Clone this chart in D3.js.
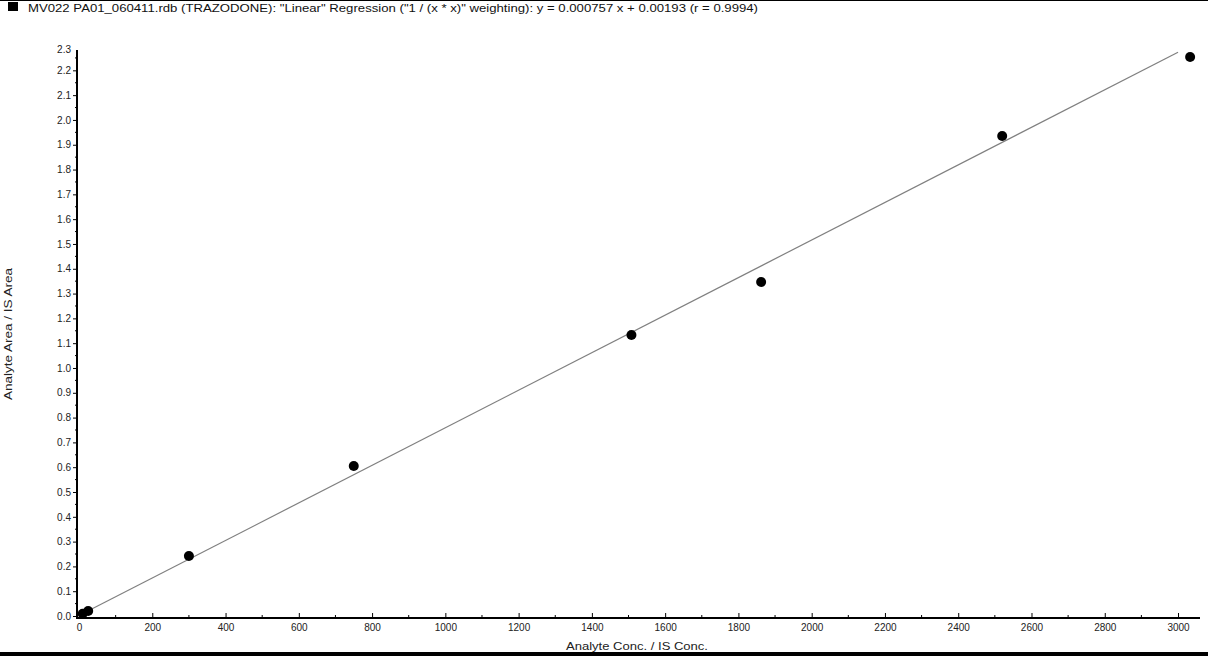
<!DOCTYPE html>
<html>
<head>
<meta charset="utf-8">
<script src="https://cdn.jsdelivr.net/npm/d3@7"></script>
<style>
  body { margin: 0; background: #fff; }
  svg { display: block; font-family: "Liberation Sans", Arial, sans-serif; }
</style>
</head>
<body>
<svg id="canvas"></svg>
<script>
const WIDTH = 1208;
const HEIGHT = 656;

const title =
  'MV022 PA01_060411.rdb (TRAZODONE): "Linear" Regression ("1 / (x * x)" weighting): y = 0.000757 x + 0.00193 (r = 0.9994)';
const xTitle = "Analyte Conc. / IS Conc.";
const yTitle = "Analyte Area / IS Area";

// calibration standards
const conc = [10, 25, 300, 750, 1508, 1862, 2520, 3033];
const ratio = [0.009, 0.02, 0.242, 0.605, 1.133, 1.347, 1.935, 2.254];

const slope = 0.000757;
const intercept = 0.00193;
const fitRange = [0, 3000];

const xTicks = d3.range(0, 3001, 200);
const xMinor = d3.range(100, 3001, 200);
const yTicks = d3.range(0, 23).map((d) => d / 10);
const yMinor = d3.range(0, 23).map((d) => d / 10 + 0.05);

const canvas = d3.select("#canvas").attr("width", WIDTH).attr("height", HEIGHT);

const xScale = d3.scaleLinear().domain([-5.5, 3060]).range([77, 1200]);
const yScale = d3.scaleLinear().domain([-0.008, 2.282]).range([618, 50]);

// frame lines
canvas.append("rect").attr("x", 0).attr("y", 0).attr("width", WIDTH).attr("height", 1).attr("fill", "#000");
canvas.append("rect").attr("x", 0).attr("y", 652).attr("width", WIDTH).attr("height", 4).attr("fill", "#000");

// title
canvas.append("rect").attr("x", 8).attr("y", 2).attr("width", 10).attr("height", 9).attr("fill", "#000");
canvas
  .append("text")
  .attr("x", 28)
  .attr("y", 12)
  .attr("font-size", 11)
  .attr("fill", "#111")
  .attr("textLength", 730)
  .attr("lengthAdjust", "spacingAndGlyphs")
  .text(title);

// axes
const xAxis = d3.axisTop(xScale).tickValues(xTicks).tickSize(5).tickFormat(d3.format("d"));
const gx = canvas.append("g").attr("transform", "translate(0, 618)").call(xAxis);
gx.select(".domain").attr("d", "M77,0H1200").attr("stroke", "#000").attr("stroke-width", 2);
gx.selectAll(".tick text").attr("y", 13).attr("dy", 0).attr("font-size", 10).attr("fill", "#222");
gx.selectAll(".tick line").attr("stroke", "#000");
gx.selectAll(".minor")
  .data(xMinor)
  .enter()
  .append("line")
  .attr("x1", (d) => xScale(d))
  .attr("x2", (d) => xScale(d))
  .attr("y1", 0)
  .attr("y2", -3)
  .attr("stroke", "#000");

const yAxis = d3.axisLeft(yScale).tickValues(yTicks).tickSize(4).tickFormat(d3.format(".1f"));
const gy = canvas.append("g").attr("transform", "translate(77, 0)").call(yAxis);
gy.select(".domain").attr("d", "M0,50V619").attr("stroke", "#000").attr("stroke-width", 2);
gy.selectAll(".tick text").attr("x", -6).attr("font-size", 10).attr("fill", "#222");
gy.selectAll(".tick line").attr("stroke", "#000");
gy.selectAll(".minor")
  .data(yMinor)
  .enter()
  .append("line")
  .attr("x1", 0)
  .attr("x2", -2)
  .attr("y1", (d) => yScale(d))
  .attr("y2", (d) => yScale(d))
  .attr("stroke", "#000");
gy.append("text")
  .attr("x", -6)
  .attr("y", yScale.range()[1] + 3)
  .attr("text-anchor", "end")
  .attr("font-size", 10)
  .attr("fill", "#222")
  .text("2.3");

canvas
  .append("text")
  .attr("x", 566)
  .attr("y", 650)
  .attr("font-size", 11)
  .attr("fill", "#222")
  .attr("textLength", 142)
  .attr("lengthAdjust", "spacingAndGlyphs")
  .text(xTitle);

canvas
  .append("text")
  .attr("transform", "translate(12, 400) rotate(-90)")
  .attr("font-size", 11)
  .attr("fill", "#222")
  .attr("textLength", 132)
  .attr("lengthAdjust", "spacingAndGlyphs")
  .text(yTitle);

// regression line
canvas
  .append("line")
  .attr("x1", xScale(fitRange[0]))
  .attr("y1", yScale(slope * fitRange[0] + intercept))
  .attr("x2", xScale(fitRange[1]))
  .attr("y2", yScale(slope * fitRange[1] + intercept))
  .attr("stroke", "#808080")
  .attr("stroke-width", 1.2);

// points
canvas
  .selectAll(".pt")
  .data(conc)
  .enter()
  .append("circle")
  .attr("class", "pt")
  .attr("cx", (d) => xScale(d))
  .attr("cy", (d, i) => yScale(ratio[i]))
  .attr("r", 5)
  .attr("fill", "#000");
</script>
</body>
</html>
